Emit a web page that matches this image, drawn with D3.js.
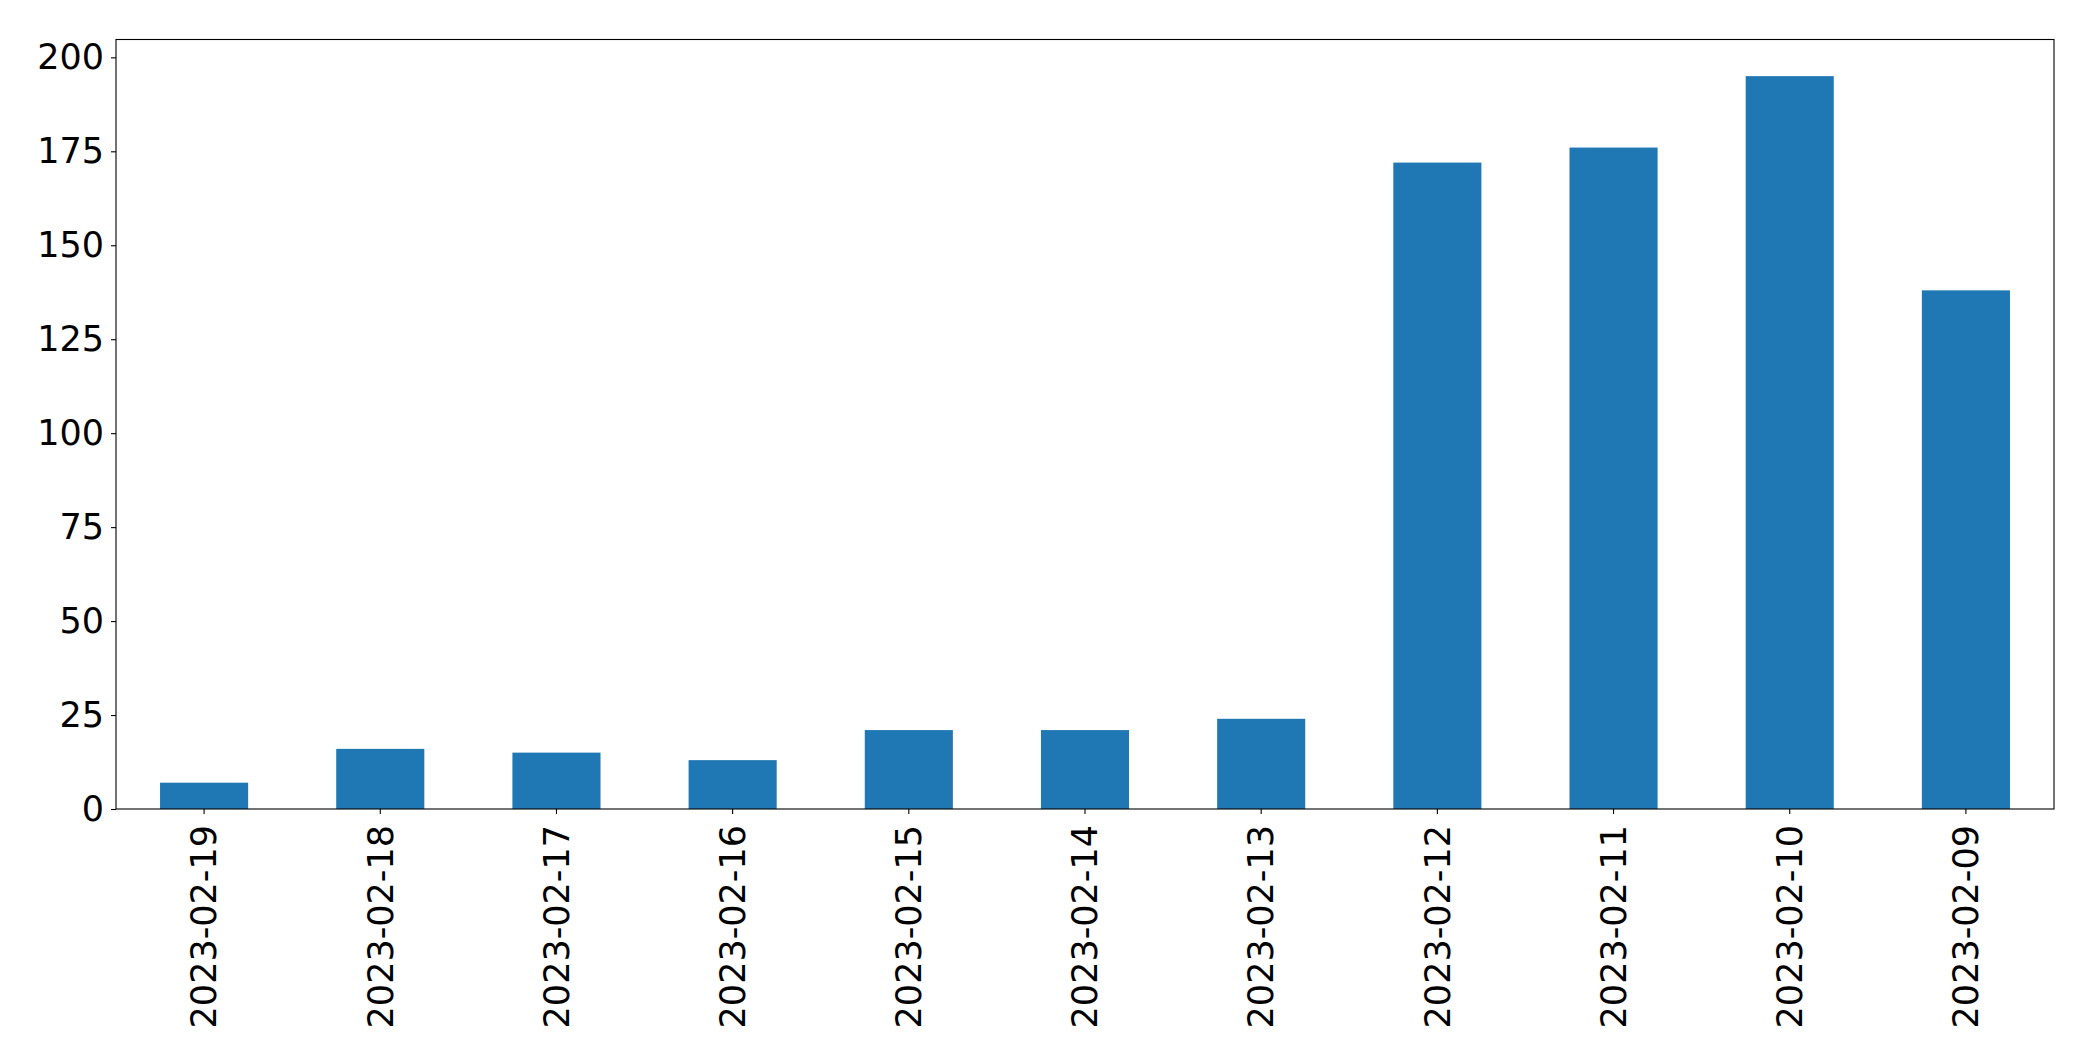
<!DOCTYPE html>
<html>
<head>
<meta charset="utf-8">
<script src="https://cdn.jsdelivr.net/npm/d3@7"></script>
<style>
  html, body { margin: 0; padding: 0; background: #fff; }
  svg { display: block; }
  text { font-family: "DejaVu Sans", sans-serif; fill: #000; }
</style>
</head>
<body>
<svg id="chart" width="2093" height="1061"></svg>
<script>
const categories = ["2023-02-19","2023-02-18","2023-02-17","2023-02-16","2023-02-15","2023-02-14","2023-02-13","2023-02-12","2023-02-11","2023-02-10","2023-02-09"];
const values = [7, 16, 15, 13, 21, 21, 24, 172, 176, 195, 138];
const yTicks = [0, 25, 50, 75, 100, 125, 150, 175, 200];

const W = 2093, H = 1061;
const m = { left: 116, right: 2054, top: 39.5, bottom: 809 };
const svg = d3.select("#chart");

const x = d3.scaleBand().domain(categories).range([m.left, m.right]).paddingInner(0.5).paddingOuter(0.25);
const y = d3.scaleLinear().domain([0, d3.max(values) * 1.05]).range([m.bottom, m.top]);

svg.append("g").selectAll("rect").data(values).join("rect")
  .attr("x", (d, i) => x(categories[i]))
  .attr("width", x.bandwidth())
  .attr("y", d => y(d))
  .attr("height", d => y(0) - y(d))
  .attr("fill", "#1f77b4");

// frame
svg.append("rect").attr("x", m.left).attr("y", m.top)
  .attr("width", m.right - m.left).attr("height", m.bottom - m.top)
  .attr("fill", "none").attr("stroke", "#000").attr("stroke-width", 1.1);

// y axis
const ya = svg.append("g").attr("transform", `translate(${m.left},0)`)
  .call(d3.axisLeft(y).tickValues(yTicks).tickSize(5).tickPadding(7).tickFormat(d3.format("d")));
ya.select(".domain").remove();
ya.selectAll("line").attr("stroke", "#000").attr("stroke-width", 1.1);
ya.selectAll("text").attr("font-size", 35).attr("font-family", "DejaVu Sans").attr("fill", "#000");

// x axis
const xa = svg.append("g").attr("transform", `translate(0,${m.bottom})`)
  .call(d3.axisBottom(x).tickSize(5).tickPadding(0));
xa.select(".domain").remove();
xa.selectAll("line").attr("stroke", "#000").attr("stroke-width", 1.1);
xa.selectAll("text")
  .attr("font-size", 35).attr("font-family", "DejaVu Sans").attr("fill", "#000")
  .attr("text-anchor", "end")
  .attr("y", 0).attr("x", 0).attr("dy", "0.35em")
  .attr("transform", "translate(0,16) rotate(-90)");
</script>
</body>
</html>
